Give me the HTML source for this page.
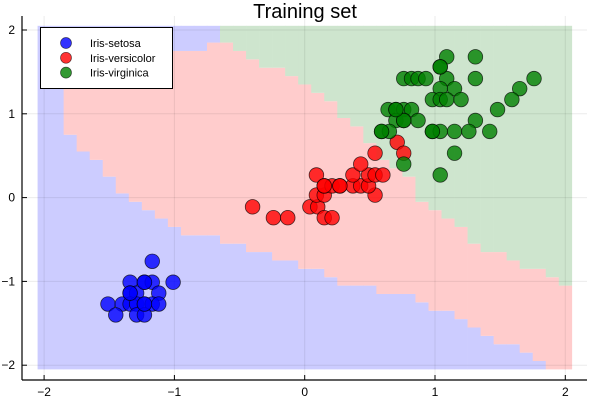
<!DOCTYPE html>
<html><head><meta charset="utf-8">
<style>
html,body{margin:0;padding:0;background:#fff;}
svg{display:block;font-family:"Liberation Sans","DejaVu Sans",sans-serif;}
</style></head>
<body>
<svg id="chart" width="600" height="400" viewBox="0 0 600 400" xmlns="http://www.w3.org/2000/svg">
<text x="305" y="18" font-size="20" text-anchor="middle" fill="#000">Training set</text>
<g id="bg"></g>
<g id="grid"></g>
<g id="axes"></g>
<g id="pts"></g>
<g id="legend"></g>
</svg>
<script>
const colCenters = [-2.0,-1.9,-1.8,-1.7,-1.6,-1.5,-1.4,-1.3,-1.2,-1.1,-1.0,-0.9,-0.8,-0.7,-0.6,-0.5,-0.4,-0.3,-0.2,-0.1,0.0,0.1,0.2,0.3,0.4,0.5,0.6,0.7,0.8,0.9,1.0,1.1,1.2,1.3,1.4,1.5,1.6,1.7,1.8,1.9,2.0];
const setosaTop = [2.05,2.05,0.75,0.55,0.45,0.25,0.05,-0.05,-0.15,-0.25,-0.35,-0.45,-0.45,-0.45,-0.55,-0.55,-0.65,-0.65,-0.75,-0.75,-0.85,-0.85,-0.95,-1.05,-1.05,-1.05,-1.15,-1.15,-1.15,-1.25,-1.35,-1.35,-1.45,-1.55,-1.65,-1.75,-1.75,-1.85,-1.95,-2.05,-2.05];
const versicolorTop = [2.05,2.05,1.75,1.75,1.75,1.75,1.75,1.75,1.75,1.75,1.75,1.75,1.75,1.85,1.85,1.75,1.65,1.55,1.55,1.45,1.35,1.25,1.15,0.95,0.85,0.65,0.45,0.35,0.25,-0.05,-0.15,-0.25,-0.35,-0.55,-0.65,-0.65,-0.75,-0.85,-0.85,-0.95,-1.05];
const upperClassSplit = -0.7;

const setosaX = [-1.17,-1.34,-1.23,-1.17,-1.01,-1.34,-1.29,-1.12,-1.51,-1.40,-1.34,-1.29,-1.23,-1.17,-1.12,-1.45,-1.29,-1.23,-1.23,-1.23,-1.34];
const setosaY = [-0.76,-1.01,-1.01,-1.01,-1.01,-1.14,-1.14,-1.14,-1.27,-1.27,-1.27,-1.27,-1.27,-1.27,-1.27,-1.40,-1.40,-1.40,-1.27,-1.01,-1.14];
const versiX = [-0.40,-0.24,-0.13,0.04,0.10,0.15,0.21,0.09,0.15,0.54,0.09,0.15,0.21,0.27,0.37,0.43,0.49,0.37,0.49,0.54,0.60,0.43,0.54,0.71,0.76,0.15,0.27];
const versiY = [-0.11,-0.24,-0.24,-0.11,-0.11,-0.24,-0.24,0.03,0.03,0.03,0.27,0.14,0.14,0.14,0.14,0.14,0.14,0.27,0.27,0.27,0.27,0.40,0.53,0.66,0.53,0.14,0.14];
const virgX = [1.09,1.31,1.04,0.76,0.82,0.87,0.93,1.09,1.31,1.76,1.04,1.15,1.65,0.98,1.04,1.09,1.20,1.59,0.64,0.70,0.76,0.82,1.48,0.70,0.76,0.87,1.31,0.59,0.65,0.98,1.04,1.15,1.26,1.42,1.15,0.76,1.04,1.04,0.76,0.59,0.98,0.70];
const virgY = [1.68,1.68,1.56,1.42,1.42,1.42,1.42,1.42,1.42,1.42,1.30,1.30,1.30,1.17,1.17,1.17,1.17,1.17,1.05,1.05,1.05,1.05,1.05,0.92,0.92,0.92,0.92,0.79,0.79,0.79,0.79,0.79,0.79,0.79,0.53,0.40,0.27,1.56,0.92,0.79,0.79,1.05];
const xTicks = [-2,-1,0,1,2];
const yTicks = [-2,-1,0,1,2];

const NS = "http://www.w3.org/2000/svg";
const X = v => 304.7 + v * 130.3;
const Y = v => 197.6 - v * 83.8;
const STEP = 0.1;
function mk(tag, attrs, parent){
  const e = document.createElementNS(NS, tag);
  for (const k in attrs) e.setAttribute(k, attrs[k]);
  parent.appendChild(e);
  return e;
}
const bg = document.getElementById('bg');
const BLUE = 'rgb(204,204,255)', RED = 'rgb(255,204,204)', GREEN = 'rgb(206,229,206)';
colCenters.forEach((c, i) => {
  const x0 = X(c - STEP/2), w = X(c + STEP/2) - x0 + 0.3;
  const bot = -2.05, top = 2.05;
  const st = Math.max(bot, Math.min(top, setosaTop[i]));
  const vt = Math.max(st, Math.min(top, versicolorTop[i]));
  let r = mk('rect', {x:x0, y:Y(st), width:w, height:Y(bot)-Y(st), fill:BLUE}, bg);
  
  
  if (vt > st) {
    r = mk('rect', {x:x0, y:Y(vt), width:w, height:Y(st)-Y(vt), fill:RED}, bg);
    
    
  }
  if (top > vt) {
    const isBlue = c <= upperClassSplit + 1e-9;
    r = mk('rect', {x:x0, y:Y(top), width:w, height:Y(vt)-Y(top), fill: isBlue ? BLUE : GREEN}, bg);
    
    
  }
});

const grid = document.getElementById('grid');
xTicks.forEach(t => {
  const l = mk('line', {x1:X(t), x2:X(t), y1:16, y2:380, stroke:'#000', 'stroke-opacity':0.08, 'stroke-width':1}, grid);
  
  
});
yTicks.forEach(t => {
  const l = mk('line', {x1:22, x2:587, y1:Y(t), y2:Y(t), stroke:'#000', 'stroke-opacity':0.08, 'stroke-width':1}, grid);
  
  
});

const axes = document.getElementById('axes');
let a = mk('line', {x1:22, x2:22, y1:16, y2:380, stroke:'#000', 'stroke-width':1.2}, axes);


a = mk('line', {x1:22, x2:587, y1:380, y2:380, stroke:'#000', 'stroke-width':1.2}, axes);


const fmt = t => t < 0 ? '\u2212' + Math.abs(t) : String(t);
xTicks.forEach(t => {
  const tk = mk('line', {x1:X(t), x2:X(t), y1:380, y2:375, stroke:'#000', 'stroke-width':1}, axes);
  
  
  const tx = mk('text', {x:X(t), y:396, 'font-size':12, 'text-anchor':'middle', fill:'#000'}, axes);
  tx.textContent = fmt(t);
  
  
});
yTicks.forEach(t => {
  const tk = mk('line', {x1:22, x2:27, y1:Y(t), y2:Y(t), stroke:'#000', 'stroke-width':1}, axes);
  
  
  const tx = mk('text', {x:15, y:Y(t)+4, 'font-size':12, 'text-anchor':'end', fill:'#000'}, axes);
  tx.textContent = fmt(t);
  
  
});

const pts = document.getElementById('pts');
function series(xs, ys, fill, name){
  xs.forEach((xv, i) => {
    const c = mk('circle', {cx:X(xv), cy:Y(ys[i]), r:7.3, fill:fill, 'fill-opacity':0.8, stroke:'#000', 'stroke-opacity':0.7, 'stroke-width':0.8}, pts);
    
    
  });
}
series(setosaX, setosaY, 'rgb(0,0,255)', 'setosa-point');
series(versiX, versiY, 'rgb(255,0,0)', 'versicolor-point');
series(virgX, virgY, 'rgb(0,128,0)', 'virginica-point');

const lg = document.getElementById('legend');
const box = mk('rect', {x:40.5, y:27.5, width:132, height:61, fill:'#fff', stroke:'#000', 'stroke-width':1}, lg);


const legNames = ['Iris-setosa','Iris-versicolor','Iris-virginica'];
const legColors = ['rgb(0,0,255)','rgb(255,0,0)','rgb(0,128,0)'];
legNames.forEach((n, i) => {
  const y = 43 + i * 14.8;
  const c = mk('circle', {cx:66, cy:y, r:5.5, fill:legColors[i], 'fill-opacity':0.8, stroke:'#000', 'stroke-opacity':0.6, 'stroke-width':0.7}, lg);
  
  
  const t = mk('text', {x:90, y:y+4, 'font-size':11, fill:'#000'}, lg);
  t.textContent = n;
  
  
});
</script>
</body></html>
